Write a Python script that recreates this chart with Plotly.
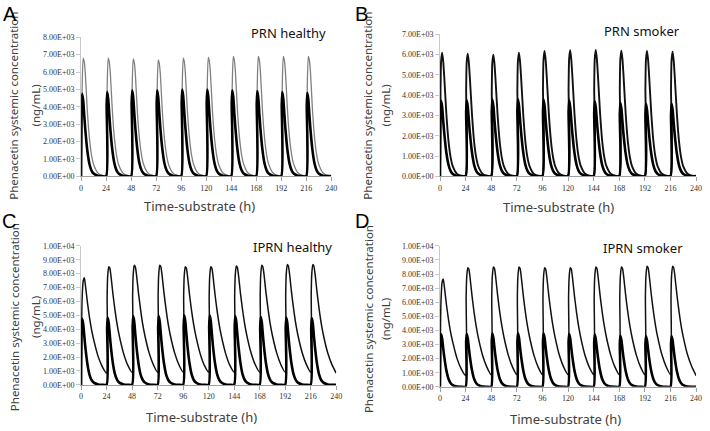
import plotly.graph_objects as go

W, H = 710, 431

# ---------------- data ----------------
DOSE_TIMES = [0, 24, 48, 72, 96, 120, 144, 168, 192, 216]
OFFSETS = [0, 0.5, 1, 2, 3, 4, 6, 8, 10, 12, 16, 20]
END_TIME = 240
X_TICKS = [0, 24, 48, 72, 96, 120, 144, 168, 192, 216, 240]

# thick curve, healthy (panels A and C)
healthy_thick = [
    [0, 4040, 4750, 4370, 3520, 2710, 1470, 710, 330, 160, 35, 10],
    [10, 4120, 4850, 4460, 3590, 2760, 1500, 730, 340, 160, 35, 10],
    [10, 4210, 4950, 4550, 3660, 2820, 1530, 740, 350, 165, 35, 10],
    [10, 4200, 4950, 4560, 3670, 2820, 1540, 740, 350, 165, 35, 10],
    [10, 4250, 5000, 4600, 3700, 2850, 1550, 750, 350, 165, 35, 10],
    [10, 4240, 5000, 4600, 3700, 2850, 1550, 750, 350, 165, 35, 10],
    [10, 4210, 4950, 4550, 3660, 2820, 1530, 740, 350, 165, 35, 10],
    [10, 4170, 4900, 4510, 3630, 2790, 1520, 735, 345, 160, 35, 10],
    [10, 4120, 4850, 4460, 3590, 2760, 1500, 730, 340, 160, 35, 10],
    [10, 4080, 4800, 4420, 3550, 2740, 1490, 720, 335, 160, 35, 10],
]
healthy_thick_end = 5

# thick curve, smoker (panels B and D)
smoker_thick = [
    [0, 3160, 3720, 3420, 2750, 2120, 1150, 560, 260, 120, 26, 7],
    [7, 3190, 3750, 3450, 2780, 2140, 1160, 560, 260, 125, 26, 7],
    [7, 3210, 3780, 3480, 2800, 2150, 1170, 570, 265, 125, 26, 7],
    [7, 3230, 3800, 3500, 2810, 2170, 1180, 570, 265, 125, 27, 7],
    [7, 3210, 3780, 3480, 2800, 2150, 1170, 570, 265, 125, 26, 7],
    [7, 3190, 3750, 3450, 2780, 2140, 1160, 560, 260, 125, 26, 7],
    [7, 3150, 3700, 3400, 2740, 2110, 1150, 555, 260, 120, 26, 7],
    [7, 3080, 3620, 3330, 2680, 2060, 1120, 545, 255, 120, 25, 7],
    [7, 3040, 3580, 3290, 2650, 2040, 1110, 540, 250, 118, 25, 7],
    [7, 3040, 3580, 3290, 2650, 2040, 1110, 540, 250, 118, 25, 7],
]
smoker_thick_end = 5

# upper curve, PRN healthy (panel A)
prn_healthy_upper = [
    [0, 3060, 5100, 6800, 6600, 5980, 3740, 2180, 1220, 680, 200, 55],
    [55, 3080, 5100, 6800, 6600, 5980, 3740, 2180, 1220, 680, 200, 55],
    [55, 3040, 5060, 6750, 6550, 5940, 3710, 2160, 1220, 675, 200, 55],
    [55, 3020, 5030, 6700, 6500, 5900, 3690, 2140, 1210, 670, 200, 55],
    [55, 3060, 5100, 6800, 6600, 5980, 3740, 2180, 1220, 680, 200, 55],
    [55, 3080, 5140, 6850, 6640, 6030, 3770, 2190, 1230, 685, 205, 55],
    [55, 3110, 5180, 6900, 6690, 6070, 3800, 2210, 1240, 690, 205, 55],
    [55, 3110, 5180, 6900, 6690, 6070, 3800, 2210, 1240, 690, 205, 55],
    [55, 3110, 5180, 6900, 6690, 6070, 3800, 2210, 1240, 690, 205, 55],
    [55, 3110, 5180, 6900, 6690, 6070, 3800, 2210, 1240, 690, 205, 55],
]
prn_healthy_upper_end = 50

# upper curve, PRN smoker (panel B)
prn_smoker_upper = [
    [0, 4270, 5670, 6100, 5670, 4880, 3050, 1710, 920, 490, 120, 30],
    [30, 4240, 5630, 6050, 5630, 4840, 3030, 1690, 910, 485, 120, 30],
    [30, 4200, 5580, 6000, 5580, 4800, 3000, 1680, 900, 480, 120, 30],
    [30, 4270, 5670, 6100, 5670, 4880, 3050, 1710, 920, 490, 120, 30],
    [30, 4330, 5750, 6180, 5750, 4940, 3090, 1730, 930, 495, 125, 30],
    [30, 4350, 5780, 6220, 5780, 4980, 3110, 1740, 930, 500, 125, 30],
    [30, 4360, 5790, 6230, 5790, 4980, 3120, 1740, 935, 500, 125, 30],
    [30, 4340, 5770, 6200, 5770, 4960, 3100, 1740, 930, 495, 125, 30],
    [30, 4330, 5750, 6180, 5750, 4940, 3090, 1730, 930, 495, 125, 30],
    [30, 4310, 5720, 6150, 5720, 4920, 3080, 1720, 920, 490, 125, 30],
]
prn_smoker_upper_end = 25

# upper curve, IPRN healthy (panel C)
iprn_healthy_upper = [
    [0, 4500, 6300, 7500, 7700, 7200, 5900, 4800, 3900, 3200, 2050, 1300],
    [850, 6400, 7800, 8500, 8400, 7900, 6500, 5300, 4300, 3500, 2250, 1400],
    [900, 6500, 7900, 8600, 8500, 8000, 6600, 5400, 4350, 3550, 2300, 1450],
    [900, 6500, 7900, 8600, 8500, 8000, 6600, 5400, 4350, 3550, 2300, 1450],
    [920, 6400, 7800, 8500, 8400, 7900, 6500, 5300, 4300, 3500, 2250, 1400],
    [920, 6400, 7800, 8500, 8400, 7900, 6500, 5300, 4300, 3500, 2250, 1400],
    [920, 6450, 7850, 8550, 8450, 7950, 6550, 5350, 4330, 3530, 2280, 1430],
    [920, 6500, 7900, 8600, 8500, 8000, 6600, 5400, 4350, 3550, 2300, 1450],
    [920, 6550, 7950, 8650, 8550, 8050, 6650, 5430, 4380, 3570, 2310, 1460],
    [920, 6550, 7950, 8650, 8550, 8050, 6650, 5430, 4380, 3570, 2310, 1460],
]
iprn_healthy_upper_end = 850

# upper curve, IPRN smoker (panel D)
iprn_smoker_upper = [
    [0, 4450, 6250, 7450, 7650, 7150, 5850, 4750, 3850, 3150, 2000, 1250],
    [800, 6350, 7750, 8450, 8350, 7850, 6450, 5250, 4250, 3450, 2200, 1380],
    [850, 6400, 7800, 8500, 8400, 7900, 6500, 5300, 4300, 3500, 2250, 1400],
    [870, 6400, 7800, 8500, 8400, 7900, 6500, 5300, 4300, 3500, 2250, 1400],
    [870, 6350, 7750, 8450, 8350, 7850, 6450, 5250, 4250, 3450, 2200, 1380],
    [870, 6350, 7750, 8450, 8350, 7850, 6450, 5250, 4250, 3450, 2200, 1380],
    [870, 6400, 7800, 8500, 8400, 7900, 6500, 5300, 4300, 3500, 2250, 1400],
    [870, 6400, 7800, 8500, 8400, 7900, 6500, 5300, 4300, 3500, 2250, 1400],
    [870, 6450, 7850, 8550, 8450, 7950, 6550, 5350, 4330, 3530, 2270, 1420],
    [870, 6450, 7850, 8550, 8450, 7950, 6550, 5350, 4330, 3530, 2270, 1420],
]
iprn_smoker_upper_end = 800

PANEL_TITLES = ["PRN healthy", "PRN smoker", "IPRN healthy", "IPRN smoker"]
PANEL_LETTERS = ["A", "B", "C", "D"]
Y_MAX = [8000, 7000, 10000, 10000]
Y_TITLE_1 = "Phenacetin systemic concentration"
Y_TITLE_2 = "(ng/mL)"
X_TITLE = "Time-substrate (h)"


def flat(cycles, end):
    out = []
    for c in cycles:
        out.extend(c)
    out.append(end)
    return out


times = [d + o for d in DOSE_TIMES for o in OFFSETS] + [END_TIME]

# ---------------- layout (pixels) ----------------
def px(x):
    return x / W


def py(y):
    return 1 - y / H


panels = [
    dict(x0=80, x1=333, ytop=34, ybot=176,
         upper=flat(prn_healthy_upper, prn_healthy_upper_end),
         thick=flat(healthy_thick, healthy_thick_end),
         upper_color="#808080", upper_w=1.3,
         t1=(12, 104), t2=(34, 104), xt=(200, 206), title=(290, 30), letter=(8, 10)),
    dict(x0=443, x1=702, ytop=31, ybot=176,
         upper=flat(prn_smoker_upper, prn_smoker_upper_end),
         thick=flat(smoker_thick, smoker_thick_end),
         upper_color="#111111", upper_w=1.9,
         t1=(370, 104), t2=(388, 104), xt=(563, 207), title=(647, 28), letter=(364, 10)),
    dict(x0=80, x1=338, ytop=247, ybot=389,
         upper=flat(iprn_healthy_upper, iprn_healthy_upper_end),
         thick=flat(healthy_thick, healthy_thick_end),
         upper_color="#111111", upper_w=1.5,
         t1=(12, 320), t2=(34, 320), xt=(202, 422), title=(294, 248), letter=(7, 222)),
    dict(x0=443, x1=702, ytop=247, ybot=391,
         upper=flat(iprn_smoker_upper, iprn_smoker_upper_end),
         thick=flat(smoker_thick, smoker_thick_end),
         upper_color="#111111", upper_w=1.5,
         t1=(370, 322), t2=(388, 322), xt=(570, 424), title=(648, 249), letter=(364, 222)),
]

fig = go.Figure()
annotations = []
layout_axes = {}
tick_font = dict(family="Liberation Serif, serif", size=8, color="#333333")
title_font = dict(family="Noto Sans, Open Sans, sans-serif", size=11.5, color="#404040")


def ann(text, x, y, font, angle=0):
    return dict(text=text, x=px(x), y=py(y), textangle=angle, font=font,
                showarrow=False, xref="paper", yref="paper",
                xanchor="center", yanchor="middle")


for i, p in enumerate(panels):
    n = "" if i == 0 else str(i + 1)
    xa, ya = "x" + n, "y" + n
    for yv, color, width in [(p["upper"], p["upper_color"], p["upper_w"]),
                             (p["thick"], "#000000", 2.6)]:
        fig.add_trace(go.Scatter(x=times, y=yv, mode="lines", xaxis=xa, yaxis=ya,
                                 line=dict(color=color, width=width, shape="spline", smoothing=0.6),
                                 showlegend=False, hoverinfo="skip"))
    ymax = Y_MAX[i]
    yticks = list(range(0, ymax + 1, 1000))
    layout_axes["xaxis" + n] = dict(
        domain=[px(p["x0"]), px(p["x1"])], anchor=ya, range=[0, 240],
        tickvals=X_TICKS, ticktext=[str(t) for t in X_TICKS],
        showgrid=False, zeroline=False, showline=True, linecolor="#a0a0a0", linewidth=1,
        ticks="outside", ticklen=4, tickcolor="#a0a0a0", tickfont=tick_font,
    )
    layout_axes["yaxis" + n] = dict(
        domain=[py(p["ybot"]), py(p["ytop"])], anchor=xa, range=[0, ymax],
        tickvals=yticks, ticktext=[f"{v:.2E}" for v in yticks],
        showgrid=False, zeroline=False, showline=True, linecolor="#c8c8c8", linewidth=1,
        ticks="outside", ticklen=4, tickcolor="#c8c8c8", tickfont=tick_font,
    )
    annotations += [
        ann(Y_TITLE_1, p["t1"][0], p["t1"][1], title_font, -90),
        ann(Y_TITLE_2, p["t2"][0], p["t2"][1], title_font, -90),
        ann(X_TITLE, p["xt"][0], p["xt"][1],
            dict(family="Noto Sans, Open Sans, sans-serif", size=13, color="#404040")),
        ann(PANEL_TITLES[i], p["title"][0], p["title"][1],
            dict(family="Noto Sans, Open Sans, sans-serif", size=13, color="#111111")),
        ann(PANEL_LETTERS[i], p["letter"][0], p["letter"][1],
            dict(family="Liberation Sans, Arial, sans-serif", size=20, color="#000000")),
    ]

fig.update_layout(
    width=W, height=H, margin=dict(l=0, r=0, t=0, b=0),
    paper_bgcolor="white", plot_bgcolor="white",
    annotations=annotations, **layout_axes,
)

fig.write_html("out.html", config={"displayModeBar": False},
               post_script="document.body.style.margin='0px';")
